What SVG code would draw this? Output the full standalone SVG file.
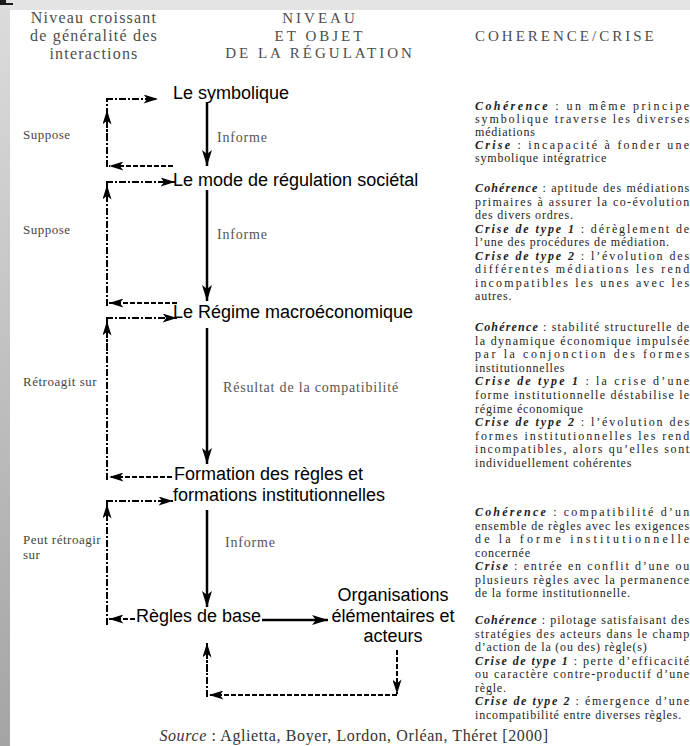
<svg xmlns="http://www.w3.org/2000/svg" width="690" height="746" viewBox="0 0 690 746">
<defs>
<linearGradient id="strip" x1="0" y1="0" x2="0" y2="1">
<stop offset="0" stop-color="#dcdcdc"/>
<stop offset="1" stop-color="#a4a4a4"/>
</linearGradient>
<marker id="ah" viewBox="0 0 16 10" refX="16" refY="5" markerWidth="17" markerHeight="10" markerUnits="userSpaceOnUse" orient="auto">
<path d="M0,0 L16,5 L0,10 L4,5 Z" fill="#000"/>
</marker>
<marker id="ahs" viewBox="0 0 16 10" refX="16" refY="5" markerWidth="17" markerHeight="9" markerUnits="userSpaceOnUse" orient="auto">
<path d="M0,0 L16,5 L0,10 L4,5 Z" fill="#000"/>
</marker>
</defs>
<style>
.hd{font-family:"Liberation Serif","Times New Roman",serif;font-size:16px;fill:#4d4d4d;letter-spacing:1.2px}
.hc{font-family:"Liberation Serif","Times New Roman",serif;font-size:15px;fill:#4d4d4d;letter-spacing:3px}
.nd{font-family:"Liberation Sans",Arial,sans-serif;font-size:18px;fill:#000}
.lb{font-family:"Liberation Serif","Times New Roman",serif;font-size:13px;fill:#444;letter-spacing:0.5px}
.li{font-family:"Liberation Serif","Times New Roman",serif;font-size:14px;fill:#555;letter-spacing:0.8px}
.cl{font-family:"Liberation Serif","Times New Roman",serif;font-size:12px;fill:#1e1e1e;letter-spacing:0.8px}
.b{font-weight:bold;font-style:italic}
.main{stroke:#000;stroke-width:2.5;fill:none;marker-end:url(#ah)}
.dd{stroke:#000;stroke-width:2;fill:none;stroke-dasharray:7,2,2,2}
.ds{stroke:#000;stroke-width:2;fill:none;stroke-dasharray:5,2}
.hm{marker-end:url(#ahs)}
</style>
<rect x="0" y="0" width="690" height="746" fill="#fff"/>
<rect x="0" y="0" width="690" height="10" fill="#e4e4e4"/>
<rect x="0" y="0" width="10" height="746" fill="url(#strip)"/>
<path d="M0,5 L13,5 L13,3 L6,3 L6,0 L0,0 Z" fill="#1a1a1a"/>

<g id="headers">
<text class="hd" x="94" y="23" text-anchor="middle">Niveau croissant</text>
<text class="hd" x="94" y="41" text-anchor="middle">de généralité des</text>
<text class="hd" x="94" y="59" text-anchor="middle">interactions</text>
<text class="hc" x="320" y="23" text-anchor="middle">NIVEAU</text>
<text class="hc" x="320" y="40.5" text-anchor="middle">ET OBJET</text>
<text class="hc" x="320" y="58" text-anchor="middle">DE LA RÉGULATION</text>
<text class="hc" x="475" y="41">COHERENCE/CRISE</text>
</g>

<g id="connectors">
<line class="main" x1="207" y1="102" x2="207" y2="166"/>
<line class="main" x1="207" y1="190" x2="207" y2="301"/>
<line class="main" x1="207" y1="328" x2="207" y2="464"/>
<line class="main" x1="207" y1="510" x2="207" y2="607"/>
<line class="main" x1="262" y1="620" x2="328" y2="620"/>
<!-- loop A: Suppose -->
<line class="ds hm" x1="173" y1="166" x2="109" y2="166"/>
<line class="dd" x1="107" y1="167" x2="107" y2="99"/>
<line class="dd hm" x1="107" y1="140" x2="107" y2="110"/>
<line class="dd hm" x1="106" y1="99" x2="158" y2="99"/>
<!-- loop B: Suppose -->
<line class="ds hm" x1="177" y1="303" x2="109" y2="303"/>
<line class="dd" x1="107" y1="306" x2="107" y2="182"/>
<line class="dd hm" x1="107" y1="215" x2="107" y2="185"/>
<line class="dd hm" x1="106" y1="182" x2="175" y2="182"/>
<!-- loop C: Rétroagit sur -->
<line class="ds hm" x1="172" y1="477" x2="109" y2="477"/>
<line class="dd" x1="107" y1="480" x2="107" y2="318"/>
<line class="dd hm" x1="107" y1="351" x2="107" y2="321"/>
<line class="dd hm" x1="106" y1="318" x2="177" y2="318"/>
<!-- loop D: Peut rétroagir sur -->
<line class="ds hm" x1="135" y1="619" x2="109" y2="619"/>
<line class="dd" x1="107" y1="625" x2="107" y2="501"/>
<line class="dd hm" x1="107" y1="534" x2="107" y2="504"/>
<line class="dd hm" x1="106" y1="501" x2="173" y2="501"/>
<!-- bottom loop -->
<line class="ds hm" x1="397" y1="650" x2="397" y2="694"/>
<line class="ds hm" x1="397" y1="695" x2="209" y2="695"/>
<line class="dd" x1="207" y1="697" x2="207" y2="660"/>
<line class="dd hm" x1="207" y1="672" x2="207" y2="643"/>
</g>

<g id="n-symbolique"><text class="nd" x="173" y="99">Le symbolique</text></g>
<g id="n-mode"><text class="nd" x="173" y="186">Le mode de régulation sociétal</text></g>
<g id="n-regime"><text class="nd" x="173" y="318">Le Régime macroéconomique</text></g>
<g id="n-formation"><text class="nd" x="174" y="480">Formation des règles et</text><text class="nd" x="173" y="500.5">formations institutionnelles</text></g>
<g id="n-regles"><text class="nd" x="136" y="622">Règles de base</text></g>
<g id="n-orga"><text class="nd" x="393" y="601" text-anchor="middle">Organisations</text><text class="nd" x="393" y="621.5" text-anchor="middle">élémentaires et</text><text class="nd" x="393" y="642" text-anchor="middle">acteurs</text></g>

<g id="labels">
<text class="li" x="217" y="142">Informe</text>
<text class="li" x="217" y="239">Informe</text>
<text class="li" x="223" y="392">Résultat de la compatibilité</text>
<text class="li" x="225" y="547">Informe</text>
<text class="lb" x="23" y="139">Suppose</text>
<text class="lb" x="23" y="234">Suppose</text>
<text class="lb" x="23" y="386">Rétroagit sur</text>
<text class="lb" x="23" y="544">Peut rétroagir</text>
<text class="lb" x="23" y="559">sur</text>
</g>

<g id="coherence">
<text class="cl" x="475" y="109.5" textLength="215" lengthAdjust="spacing"><tspan class="b">Cohérence</tspan> : un même principe</text>
<text class="cl" x="475" y="122.5" textLength="215" lengthAdjust="spacing">symbolique traverse les diverses</text>
<text class="cl" x="475" y="135.5">médiations</text>
<text class="cl" x="475" y="149" textLength="215" lengthAdjust="spacing"><tspan class="b">Crise</tspan> : incapacité à fonder une</text>
<text class="cl" x="475" y="162">symbolique intégratrice</text>

<text class="cl" x="475" y="192" textLength="215" lengthAdjust="spacing"><tspan class="b">Cohérence</tspan> : aptitude des médiations</text>
<text class="cl" x="475" y="205.5" textLength="215" lengthAdjust="spacing">primaires à assurer la co-évolution</text>
<text class="cl" x="475" y="219">des divers ordres.</text>
<text class="cl" x="475" y="232.5" textLength="215" lengthAdjust="spacing"><tspan class="b">Crise de type 1</tspan> : dérèglement de</text>
<text class="cl" x="475" y="246">l’une des procédures de médiation.</text>
<text class="cl" x="475" y="259.5" textLength="215" lengthAdjust="spacing"><tspan class="b">Crise de type 2</tspan> : l’évolution des</text>
<text class="cl" x="475" y="273" textLength="215" lengthAdjust="spacing">différentes médiations les rend</text>
<text class="cl" x="475" y="286.5" textLength="215" lengthAdjust="spacing">incompatibles les unes avec les</text>
<text class="cl" x="475" y="300">autres.</text>

<text class="cl" x="475" y="331" textLength="215" lengthAdjust="spacing"><tspan class="b">Cohérence</tspan> : stabilité structurelle de</text>
<text class="cl" x="475" y="344.6" textLength="215" lengthAdjust="spacing">la dynamique économique impulsée</text>
<text class="cl" x="475" y="358.2" textLength="215" lengthAdjust="spacing">par la conjonction des formes</text>
<text class="cl" x="475" y="371.8">institutionnelles</text>
<text class="cl" x="475" y="385.4" textLength="215" lengthAdjust="spacing"><tspan class="b">Crise de type 1</tspan> : la crise d’une</text>
<text class="cl" x="475" y="399" textLength="215" lengthAdjust="spacing">forme institutionnelle déstabilise le</text>
<text class="cl" x="475" y="412.6">régime économique</text>
<text class="cl" x="475" y="426.2" textLength="215" lengthAdjust="spacing"><tspan class="b">Crise de type 2</tspan> : l’évolution des</text>
<text class="cl" x="475" y="439.8" textLength="215" lengthAdjust="spacing">formes institutionnelles les rend</text>
<text class="cl" x="475" y="453.4" textLength="215" lengthAdjust="spacing">incompatibles, alors qu’elles sont</text>
<text class="cl" x="475" y="467">individuellement cohérentes</text>

<text class="cl" x="475" y="516" textLength="215" lengthAdjust="spacing"><tspan class="b">Cohérence</tspan> : compatibilité d’un</text>
<text class="cl" x="475" y="529.5" textLength="215" lengthAdjust="spacing">ensemble de règles avec les exigences</text>
<text class="cl" x="475" y="543" textLength="215" lengthAdjust="spacing">de la forme institutionnelle</text>
<text class="cl" x="475" y="556.5">concernée</text>
<text class="cl" x="475" y="570" textLength="215" lengthAdjust="spacing"><tspan class="b">Crise</tspan> : entrée en conflit d’une ou</text>
<text class="cl" x="475" y="583.5" textLength="215" lengthAdjust="spacing">plusieurs règles avec la permanence</text>
<text class="cl" x="475" y="597">de la forme institutionnelle.</text>

<text class="cl" x="475" y="624" textLength="215" lengthAdjust="spacing"><tspan class="b">Cohérence</tspan> : pilotage satisfaisant des</text>
<text class="cl" x="475" y="637.5" textLength="215" lengthAdjust="spacing">stratégies des acteurs dans le champ</text>
<text class="cl" x="475" y="651">d’action de la (ou des) règle(s)</text>
<text class="cl" x="475" y="664.5" textLength="215" lengthAdjust="spacing"><tspan class="b">Crise de type 1</tspan> : perte d’efficacité</text>
<text class="cl" x="475" y="678" textLength="215" lengthAdjust="spacing">ou caractère contre-productif d’une</text>
<text class="cl" x="475" y="691.5">règle.</text>
<text class="cl" x="475" y="705" textLength="215" lengthAdjust="spacing"><tspan class="b">Crise de type 2</tspan> : émergence d’une</text>
<text class="cl" x="475" y="718.5">incompatibilité entre diverses règles.</text>
</g>

<g id="source">
<text x="354" y="741" text-anchor="middle" font-family="Liberation Serif, Times New Roman, serif" font-size="16" letter-spacing="0.6" fill="#333"><tspan font-style="italic">Source</tspan> : Aglietta, Boyer, Lordon, Orléan, Théret [2000]</text>
</g>
</svg>
